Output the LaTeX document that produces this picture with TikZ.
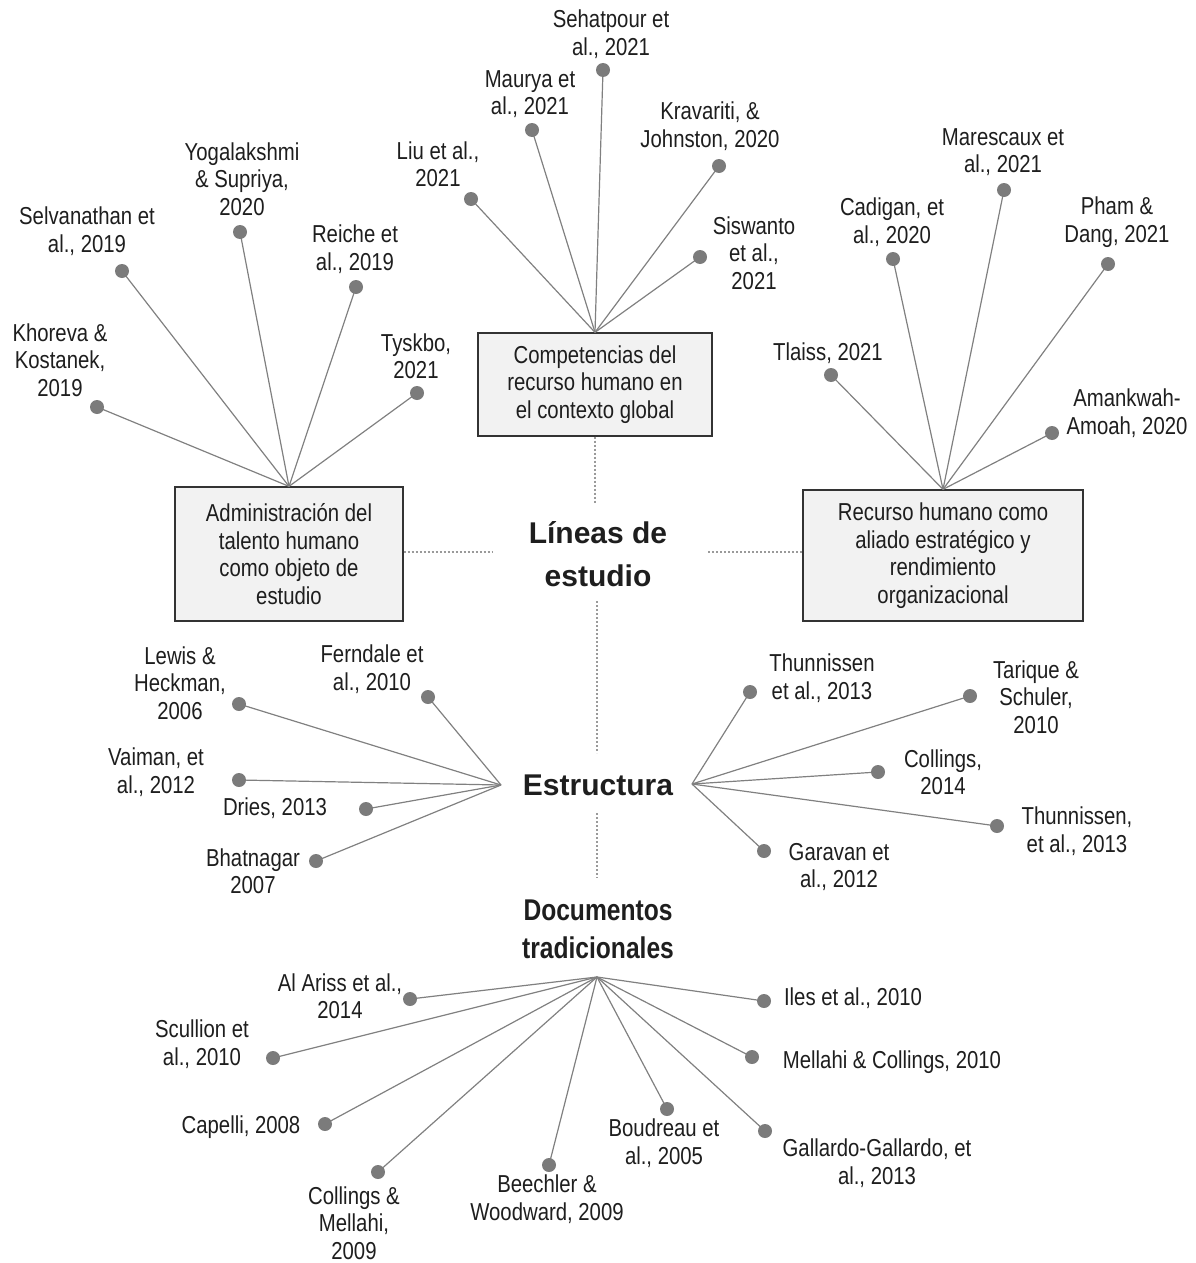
\documentclass[tikz,border=0pt]{standalone}
\usepackage{fontspec}
\setmainfont{Liberation Sans}[FakeStretch=0.83]
\newfontfamily\headfont{Liberation Sans}
\newfontfamily\headnarrow{Liberation Sans}[FakeStretch=0.82]
\definecolor{txt}{HTML}{1E1E1E}
\definecolor{dotc}{HTML}{7B7B7B}
\definecolor{linec}{HTML}{808080}
\definecolor{boxc}{HTML}{333333}
\definecolor{boxfill}{HTML}{F2F2F2}
\definecolor{dotline}{HTML}{9A9A9A}
\newcommand\leaf[5]{%
  \draw[conn] (#5) -- (#2);
  \node[dotnode] (#1) at (#2) {};
  \node[lbl] (#1l) at (#3) {#4};}
\begin{document}
\begin{tikzpicture}[x=1pt,y=-1pt,
  lbl/.style={align=center, inner sep=0pt, text=txt, font=\fontsize{24.5}{27.5}\selectfont},
  dotnode/.style={circle, fill=dotc, minimum size=14pt, inner sep=0pt},
  conn/.style={draw=linec, line width=1.2pt},
  boxnode/.style={draw=boxc, fill=boxfill, line width=1.3pt, align=center, inner sep=0pt, text=txt, font=\fontsize{24.5}{27.5}\selectfont},
  dotted line/.style={draw=dotline, line width=1.3pt, dash pattern=on 2pt off 2pt},
  head/.style={align=center, inner sep=0pt, text=txt, font=\headfont\bfseries\fontsize{30}{43}\selectfont}]
\useasboundingbox (0,0) rectangle (1195,1263);

% boxes
\node[boxnode, minimum width=234pt, minimum height=103pt] (comp) at (595,384.5) {Competencias del\\recurso humano en\\el contexto global};
\node[boxnode, minimum width=228pt, minimum height=134pt] (adm) at (289,554) {Administración del\\talento humano\\como objeto de\\estudio};
\node[boxnode, minimum width=280pt, minimum height=131pt] (rec) at (943,555.5) {Recurso humano como\\aliado estratégico y\\rendimiento\\organizacional};

% headings
\node[head] (lineas) at (598,554) {Líneas de\\estudio};
\node[head] (estr) at (598,785) {Estructura};
\node[head, font=\headnarrow\bfseries\fontsize{30}{38}\selectfont] (docs) at (598,929) {Documentos\\tradicionales};

% dotted connectors
\coordinate (v1) at (595,503);
\coordinate (hl) at (493,552);
\coordinate (hr) at (708,552);
\coordinate (v2a) at (597,601);
\coordinate (v2b) at (597,753);
\coordinate (v3a) at (597,813);
\coordinate (v3b) at (597,878);
\draw[dotted line] (comp.south) -- (v1);
\draw[dotted line] (adm.east |- hl) -- (hl);
\draw[dotted line] (hr) -- (rec.west |- hr);
\draw[dotted line] (v2a) -- (v2b);
\draw[dotted line] (v3a) -- (v3b);

% hubs
\coordinate (estL) at (501,785);
\coordinate (estR) at (692,784);
\coordinate (docH) at (597,977);

% Administracion
\leaf{k1}{97,407}{60,360}{Khoreva \&\\Kostanek,\\2019}{adm.north}
\leaf{k2}{122,271}{87,231}{Selvanathan et\\al., 2019}{adm.north}
\leaf{k3}{240,232}{242,179}{Yogalakshmi\\\& Supriya,\\2020}{adm.north}
\leaf{k4}{356,287}{355,249}{Reiche et\\al., 2019}{adm.north}
\leaf{k5}{417,393}{416,356}{Tyskbo,\\2021}{adm.north}

% Competencias
\leaf{c1}{471,199}{438,164}{Liu et al.,\\2021}{comp.north}
\leaf{c2}{532,130}{530,94}{Maurya et\\al., 2021}{comp.north}
\leaf{c3}{603,70}{611,34}{Sehatpour et\\al., 2021}{comp.north}
\leaf{c4}{719,166}{710,126}{Kravariti, \&\\Johnston, 2020}{comp.north}
\leaf{c5}{700,257}{754,253}{Siswanto\\et al.,\\2021}{comp.north}

% Recurso
\leaf{r1}{893,259}{892,222}{Cadigan, et\\al., 2020}{rec.north}
\leaf{r2}{1004,190}{1003,152}{Marescaux et\\al., 2021}{rec.north}
\leaf{r3}{1108,264}{1117,222}{Pham \&\\Dang, 2021}{rec.north}
\leaf{r4}{831,375}{828,353}{Tlaiss, 2021}{rec.north}
\leaf{r5}{1052,433}{1127,413}{Amankwah-\\Amoah, 2020}{rec.north}

% Estructura left
\leaf{e1}{239,704}{180,683}{Lewis \&\\Heckman,\\2006}{estL}
\leaf{e2}{428,697}{372,669}{Ferndale et\\al., 2010}{estL}
\leaf{e3}{239,780}{156,772}{Vaiman, et\\al., 2012}{estL}
\leaf{e4}{366,809}{275,808}{Dries, 2013}{estL}
\leaf{e5}{316,861}{253,871}{Bhatnagar\\2007}{estL}

% Estructura right
\leaf{f1}{750,692}{822,678}{Thunnissen\\et al., 2013}{estR}
\leaf{f2}{970,696}{1036,697}{Tarique \&\\Schuler,\\2010}{estR}
\leaf{f3}{878,772}{943,772}{Collings,\\2014}{estR}
\leaf{f4}{997,826}{1077,831}{Thunnissen,\\et al., 2013}{estR}
\leaf{f5}{764,851}{839,867}{Garavan et\\al., 2012}{estR}

% Documentos
\leaf{d1}{410,999}{340,996}{Al Ariss et al.,\\2014}{docH}
\leaf{d2}{273,1058}{202,1044}{Scullion et\\al., 2010}{docH}
\leaf{d3}{325,1124}{241,1127}{Capelli, 2008}{docH}
\leaf{d4}{378,1172}{354,1223}{Collings \&\\Mellahi,\\2009}{docH}
\leaf{d5}{549,1165}{547,1199}{Beechler \&\\Woodward, 2009}{docH}
\leaf{d6}{667,1109}{664,1143}{Boudreau et\\al., 2005}{docH}
\leaf{d7}{765,1131}{877,1163}{Gallardo-Gallardo, et\\al., 2013}{docH}
\leaf{d8}{752,1057}{892,1062}{Mellahi \& Collings, 2010}{docH}
\leaf{d9}{764,1001}{853,998}{Iles et al., 2010}{docH}
\end{tikzpicture}
\end{document}
